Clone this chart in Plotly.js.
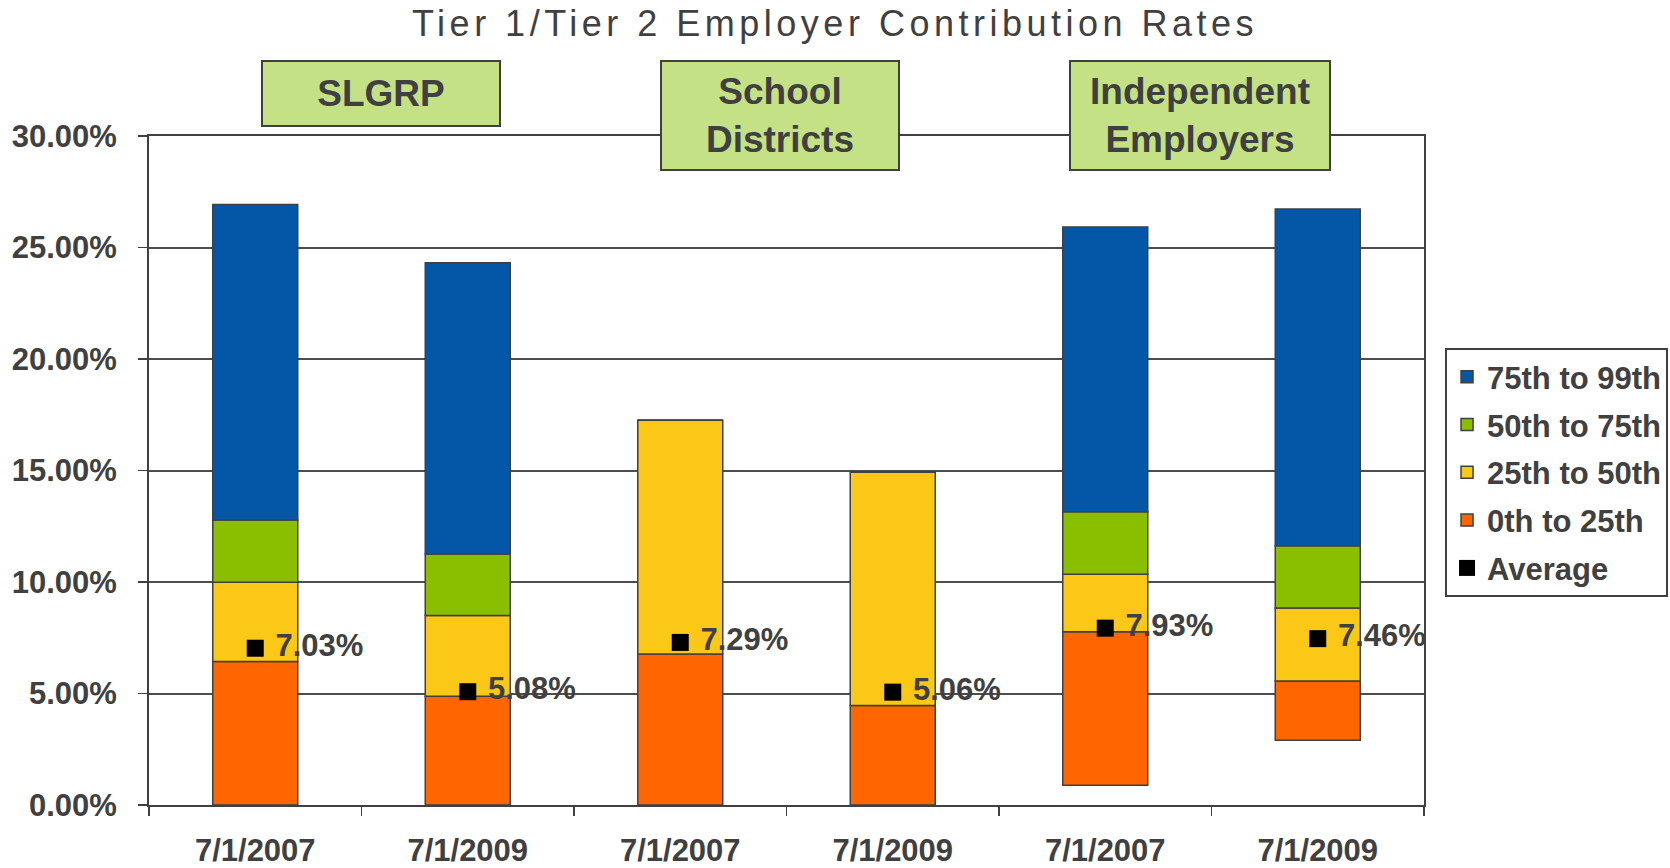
<!DOCTYPE html>
<html>
<head>
<meta charset="utf-8">
<script src="https://cdn.plot.ly/plotly-3.0.1.min.js"></script>
<style>
    html, body { margin: 0; padding: 0; background: #ffffff; }
    #plotly_graph { width: 1670px; height: 868px; }
    .gtitle { letter-spacing: 4.5px; }
</style>
</head>
<body>
<div id="plotly_graph"></div>
<script>
    // *********************************************************************************************
    // DATA

    const CATEGORY_IDS = ["slgrp_2007", "slgrp_2009", "school_2007", "school_2009", "indep_2007", "indep_2009"]
    const TICK_LABELS = ["7/1/2007", "7/1/2009", "7/1/2007", "7/1/2009", "7/1/2007", "7/1/2009"]

    // percentile boundaries, in %
    const P0  = [0, 0, 0, 0, 0.89, 2.9]
    const P25 = [6.44, 4.88, 6.77, 4.46, 7.77, 5.56]
    const P50 = [9.99, 8.50, 17.25, 14.93, 10.35, 8.83]
    const P75 = [12.78, 11.26, 17.25, 14.93, 13.15, 11.62]
    const P99 = [26.93, 24.32, 17.25, 14.93, 25.92, 26.73]

    const AVERAGE = [7.03, 5.08, 7.29, 5.06, 7.93, 7.46]

    const GROUP_LABELS = ["SLGRP", "School<br>Districts", "Independent<br>Employers"]


    // *********************************************************************************************
    // PARENT / CHILD

    let graphDiv = document.getElementById('plotly_graph')

    const TEXT_COLOR = '#404040'
    const FONT = 'Liberation Sans, Arial, sans-serif'
    const OUTLINE = { color: '#404040', width: 1.5 }

    let diff = (hi, lo) => hi.map((v, i) => v - lo[i])

    let band = (name, lo, hi, color, rank) => ({
        name: name,
        type: 'bar',
        x: CATEGORY_IDS,
        base: lo,
        y: diff(hi, lo),
        width: 0.4,
        marker: { color: color, line: OUTLINE },
        legendrank: rank,
        legendgroup: name,
        hoverinfo: 'skip'
    })

    let data = [
        band('0th to 25th', P0, P25, '#FF6600', 4),
        band('25th to 50th', P25, P50, '#FCC817', 3),
        band('50th to 75th', P50, P75, '#8ABF00', 2),
        band('75th to 99th', P75, P99, '#0357A6', 1),
        {
            name: 'Average',
            type: 'scatter',
            mode: 'markers+text',
            x: CATEGORY_IDS,
            y: AVERAGE,
            // leading nbsp widens the gap between the square and its label
            text: AVERAGE.map(v => '\u00a0' + v.toFixed(2) + '%'),
            textposition: 'middle right',
            textfont: { family: FONT, size: 31, color: TEXT_COLOR, weight: 'bold' },
            marker: { symbol: 'square', size: 17, color: '#000000' },
            legendrank: 5,
            legendgroup: 'avg',
            hoverinfo: 'skip'
        }
    ]


    // *********************************************************************************************
    // LAYOUT

    // group header boxes, centres measured in paper units
    const BOX_X = [0.1816, 0.4949, 0.8243]
    const BOX_Y = [1.0628, 1.0299, 1.0299]
    const BOX_W = [236, 236, 258]
    const BOX_H = [63, 107, 107]

    let annotations = GROUP_LABELS.map((label, i) => ({
        text: label,
        xref: 'paper', yref: 'paper',
        x: BOX_X[i], y: BOX_Y[i],
        xanchor: 'center', yanchor: 'middle',
        showarrow: false,
        width: BOX_W[i], height: BOX_H[i],
        bgcolor: '#C5E186',
        bordercolor: '#404040',
        borderwidth: 2,
        borderpad: 0,
        font: { family: FONT, size: 37, color: TEXT_COLOR, weight: 'bold' }
    }))

    let layout = {
        width: 1670,
        height: 868,
        margin: { t: 136, r: 246, b: 63, l: 149, autoexpand: false },
        paper_bgcolor: '#ffffff',
        plot_bgcolor: '#ffffff',
        barmode: 'overlay',
        showlegend: true,
        title: {
            text: 'Tier 1/Tier 2 Employer Contribution Rates',
            xref: 'container', x: 0.5, xanchor: 'center',
            yref: 'container', y: 0.973, yanchor: 'middle',
            font: { family: FONT, size: 36, color: '#404040' }
        },
        legend: {
            x: 1.0165, xanchor: 'left',
            y: 0.683, yanchor: 'top',
            traceorder: 'grouped',
            tracegroupgap: 4.5,
            bgcolor: '#ffffff',
            bordercolor: '#404040',
            borderwidth: 2,
            font: { family: FONT, size: 31, color: TEXT_COLOR, weight: 'bold' }
        },
        xaxis: {
            type: 'category',
            categoryorder: 'array',
            categoryarray: CATEGORY_IDS,
            tickmode: 'array',
            tickvals: CATEGORY_IDS,
            ticktext: TICK_LABELS,
            tickson: 'boundaries',
            ticks: 'outside',
            ticklen: 9,
            tickwidth: 1.5,
            tickcolor: '#404040',
            ticklabelstandoff: 17,
            showline: true,
            linecolor: '#404040',
            linewidth: 2,
            mirror: true,
            showgrid: false,
            tickfont: { family: FONT, size: 31, color: TEXT_COLOR, weight: 'bold' }
        },
        yaxis: {
            range: [0, 30],
            dtick: 5,
            tickformat: '.2f',
            ticksuffix: '%',
            ticks: 'outside',
            ticklen: 9,
            tickwidth: 1.5,
            tickcolor: '#404040',
            ticklabelstandoff: 15,
            showline: true,
            linecolor: '#404040',
            linewidth: 2,
            mirror: true,
            showgrid: true,
            gridcolor: '#4d4d4d',
            gridwidth: 2,
            zeroline: false,
            tickfont: { family: FONT, size: 31, color: TEXT_COLOR, weight: 'bold' }
        },
        annotations: annotations
    }


    // *********************************************************************************************
    // CONFIG

    const config = {
        displaylogo: false,
        displayModeBar: false,
        responsive: false,
        staticPlot: true
    }


    // *********************************************************************************************
    // CREATE AND APPEND

    Plotly.newPlot(graphDiv, data, layout, config)
</script>
</body>
</html>
